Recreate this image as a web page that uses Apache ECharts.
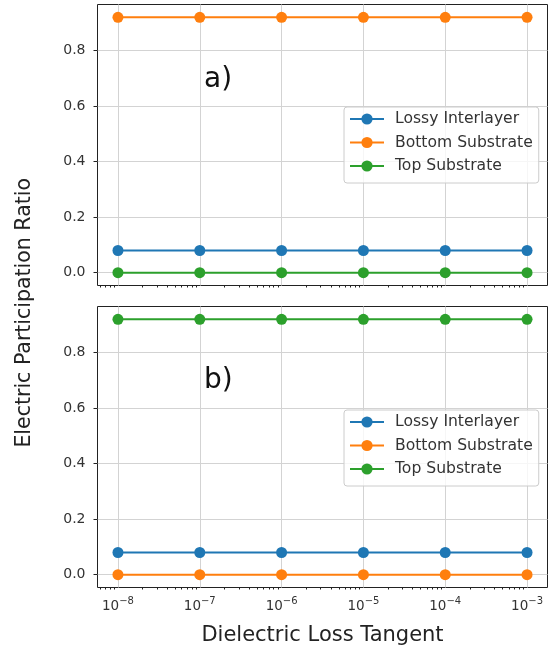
<!DOCTYPE html>
<html><head><meta charset="utf-8">
<script src="https://cdn.jsdelivr.net/npm/echarts@6/dist/echarts.min.js"></script>
<style>html,body{margin:0;padding:0;background:#fff}#c{width:554px;height:652px}</style>
</head><body><div id="c"></div>
<script>
// ---- data ----
const lossTangents = [1e-8, 1e-7, 1e-6, 1e-5, 1e-4, 1e-3];
const xTickExponents = [-8, -7, -6, -5, -4, -3];
const yTicks = [0, 0.2, 0.4, 0.6, 0.8];
const seriesNames = ['Lossy Interlayer', 'Bottom Substrate', 'Top Substrate'];
// panel a)
const aLossyInterlayer = [0.08, 0.08, 0.08, 0.08, 0.08, 0.08];
const aBottomSubstrate = [0.92, 0.92, 0.92, 0.92, 0.92, 0.92];
const aTopSubstrate    = [0.0, 0.0, 0.0, 0.0, 0.0, 0.0];
// panel b)
const bLossyInterlayer = [0.08, 0.08, 0.08, 0.08, 0.08, 0.08];
const bBottomSubstrate = [0.0, 0.0, 0.0, 0.0, 0.0, 0.0];
const bTopSubstrate    = [0.92, 0.92, 0.92, 0.92, 0.92, 0.92];

// ---- style ----
const colors = ['#1f77b4', '#ff7f0e', '#2ca02c'];
const FONT = 'DejaVu Sans';
const xMin = -8.25, xMax = -2.75;
const yMin = -0.046, yMax = 0.966;
const minorTicks = [];
for (let d = -9; d <= -3; d++) {
  for (let k = 2; k <= 9; k++) {
    const e = d + Math.log10(k);
    if (e > xMin && e < xMax) minorTicks.push(e);
  }
}

function majorX(gridIndex, showLabels, name) {
  return {
    type: 'value', gridIndex: gridIndex, min: xMin, max: xMax, position: 'bottom',
    name: name || '', nameLocation: 'middle', nameGap: 38,
    nameTextStyle: { fontFamily: FONT, fontSize: 21, color: '#222' },
    axisLine: { show: false },
    axisTick: { show: true, length: 4, customValues: xTickExponents, lineStyle: { color: '#222', width: 1 } },
    axisLabel: {
      show: showLabels, customValues: xTickExponents, margin: 9,
      formatter: function (v) { return '{base|10}{sup|\u2212' + Math.abs(Math.round(v)) + '}'; },
      rich: {
        base: { fontFamily: FONT, fontSize: 13.5, color: '#333', lineHeight: 20 },
        sup: { fontFamily: FONT, fontSize: 10, color: '#333', lineHeight: 11, verticalAlign: 'top' }
      }
    },
    splitLine: { show: true, lineStyle: { color: '#d3d3d3', width: 1 } }
  };
}
function minorX(gridIndex) {
  return {
    type: 'value', gridIndex: gridIndex, min: xMin, max: xMax, position: 'bottom',
    axisLine: { show: false },
    axisTick: { show: true, length: 2, customValues: minorTicks, lineStyle: { color: '#222', width: 1 } },
    axisLabel: { show: false },
    splitLine: { show: false }
  };
}
function yAx(gridIndex) {
  return {
    type: 'value', gridIndex: gridIndex, min: yMin, max: yMax,
    axisLine: { show: false },
    axisTick: { show: true, length: 4, customValues: yTicks, lineStyle: { color: '#222', width: 1 } },
    axisLabel: {
      customValues: yTicks, margin: 12, fontFamily: FONT, fontSize: 14, color: '#333',
      formatter: function (v) { return v.toFixed(1); }
    },
    splitLine: { show: true, lineStyle: { color: '#d3d3d3', width: 1 } }
  };
}
function lineSeries(name, values, color, xi, yi) {
  return {
    type: 'line', name: name, xAxisIndex: xi, yAxisIndex: yi,
    data: lossTangents.map(function (x, i) { return [Math.log10(x), values[i]]; }),
    symbol: 'circle', symbolSize: 11, showSymbol: true,
    lineStyle: { color: color, width: 2 },
    itemStyle: { color: color },
    emphasis: { disabled: true },
    z: 3
  };
}
function legend(top) {
  return {
    data: seriesNames, orient: 'vertical', left: 344, top: top,
    itemWidth: 34, itemHeight: 14, itemGap: 5.5,
    backgroundColor: 'rgba(255,255,255,0.8)', borderColor: '#cccccc', borderWidth: 1, borderRadius: 3,
    padding: [3, 6, 8, 5],
    textStyle: { fontFamily: FONT, fontSize: 15.6, color: '#333', lineHeight: 18, padding: [0, 0, 0, 6] },
    selectedMode: false
  };
}

const chart = echarts.init(document.getElementById('c'), null, { renderer: 'canvas' });
chart.setOption({
  animation: false,
  backgroundColor: '#ffffff',
  color: colors,
  grid: [
    { left: 97.5, top: 4.5, width: 450, height: 281, show: true, borderColor: '#222', borderWidth: 1, backgroundColor: 'transparent' },
    { left: 97.5, top: 306.5, width: 450, height: 281, show: true, borderColor: '#222', borderWidth: 1, backgroundColor: 'transparent' }
  ],
  xAxis: [majorX(0, false), minorX(0), majorX(1, true, 'Dielectric Loss Tangent'), minorX(1)],
  yAxis: [yAx(0), yAx(1)],
  legend: [legend(107), legend(410)],
  series: [
    lineSeries(seriesNames[0], aLossyInterlayer, colors[0], 0, 0),
    lineSeries(seriesNames[1], aBottomSubstrate, colors[1], 0, 0),
    lineSeries(seriesNames[2], aTopSubstrate, colors[2], 0, 0),
    lineSeries(seriesNames[0], bLossyInterlayer, colors[0], 2, 1),
    lineSeries(seriesNames[1], bBottomSubstrate, colors[1], 2, 1),
    lineSeries(seriesNames[2], bTopSubstrate, colors[2], 2, 1)
  ],
  graphic: [
    { type: 'text', left: 14, top: 178, rotation: Math.PI / 2, style: { text: 'Electric Participation Ratio', fontFamily: FONT, fontSize: 20.5, fill: '#222' } },
    { type: 'text', x: 204, y: 80, style: { text: 'a)', fontFamily: FONT, fontSize: 28, fill: '#111', verticalAlign: 'middle' } },
    { type: 'text', x: 204, y: 381, style: { text: 'b)', fontFamily: FONT, fontSize: 28, fill: '#111', verticalAlign: 'middle' } }
  ]
});
</script>
</body></html>
